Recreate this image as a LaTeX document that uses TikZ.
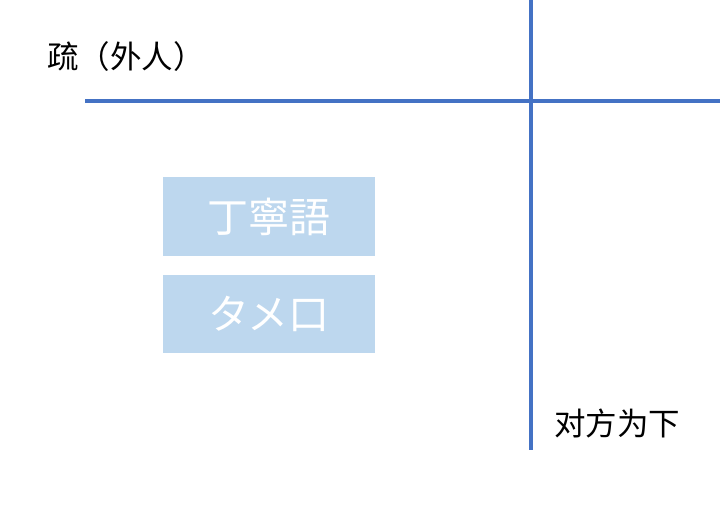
\documentclass[tikz,border=0pt]{standalone}
\usepackage{fontspec}
\newfontfamily\scfont{Noto Sans CJK SC}
\newfontfamily\jpfont{Noto Sans CJK JP}
\usetikzlibrary{positioning}
\definecolor{axisBlue}{HTML}{4472C4}
\definecolor{boxBlue}{HTML}{BDD7EE}
\tikzset{
	axisline/.style={line width=4pt, draw=axisBlue},
	wordbox/.style={fill=boxBlue, minimum width=212pt, minimum height=78pt,
		inner sep=0pt, text=white, font=\jpfont\fontsize{41}{44}\selectfont},
	cornerlabel/.style={inner sep=0pt, font=\scfont\fontsize{31.5}{34}\selectfont}
}
\begin{document}
\begin{tikzpicture}[x=1pt, y=-1pt]
	% ==================================================
	% 1. 画布 (与原图同尺寸)
	% ==================================================
	\useasboundingbox (0,0) rectangle (720,505);

	% 2. 两条坐标轴
	\coordinate (hLeft) at (85,101);
	\coordinate (hRight) at (720,101);
	\coordinate (vTop) at (531,0);
	\coordinate (vBottom) at (531,450);
	\draw[axisline] (hLeft) -- (hRight);
	\draw[axisline] (vTop) -- (vBottom);

	% 3. 角上的标签
	\node[cornerlabel, anchor=west] (outsider) at (47,57) {疏（外人）};
	\node[cornerlabel, anchor=west] (lower) at (554,423) {对方为下};

	% 4. 两个词的方块
	\node[wordbox] (teinei) at (269,216.5) {丁寧語};
	\node[wordbox, below=19pt of teinei] (tameguchi) {タメ口};

\end{tikzpicture}
\end{document}
